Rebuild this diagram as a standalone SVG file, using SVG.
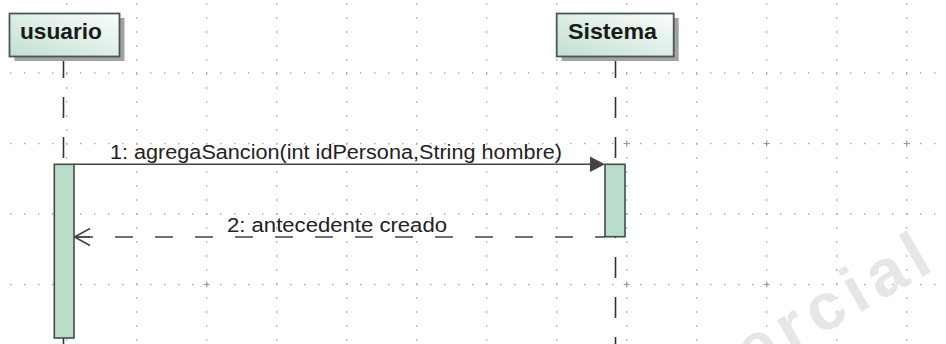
<svg xmlns="http://www.w3.org/2000/svg" width="946" height="344" viewBox="0 0 946 344">
<style>
.gv{stroke:#a8a8a8;stroke-width:1.4;stroke-dasharray:1.4 12.6;stroke-dashoffset:-3.3}
.gh{stroke:#a8a8a8;stroke-width:1.4;stroke-dasharray:1.4 12.6;stroke-dashoffset:-10}
.cr{stroke:#999;stroke-width:1.2}
.box{fill:url(#boxg);stroke:#4a5752;stroke-width:1.8}
.shadow{fill:#a2a2a2}
.act{fill:#b9ddca;stroke:#3f4f48;stroke-width:1.6}
.life{stroke:#333;stroke-width:1.6;stroke-dasharray:21 19;fill:none}
.title{font-family:"Liberation Sans",Arial,sans-serif;font-weight:bold;font-size:22px;fill:#1a1a1a}
.lbl{font-family:"Liberation Sans",Arial,sans-serif;font-size:20px;fill:#222}
.msg{stroke:#444;stroke-width:1.6;fill:none}
</style>
<defs>
<linearGradient id="boxg" x1="0" y1="1" x2="1" y2="0">
<stop offset="0" stop-color="#c0e0d0"/>
<stop offset="1" stop-color="#fbfdfc"/>
</linearGradient>
</defs>
<rect width="946" height="344" fill="#ffffff"/>
<g id="grid">
<line class="gv" x1="66.7" y1="0" x2="66.7" y2="344"/>
<line class="gv" x1="136.7" y1="0" x2="136.7" y2="344"/>
<line class="gv" x1="206.7" y1="0" x2="206.7" y2="344"/>
<line class="gv" x1="276.7" y1="0" x2="276.7" y2="344"/>
<line class="gv" x1="346.7" y1="0" x2="346.7" y2="344"/>
<line class="gv" x1="416.7" y1="0" x2="416.7" y2="344"/>
<line class="gv" x1="486.7" y1="0" x2="486.7" y2="344"/>
<line class="gv" x1="556.7" y1="0" x2="556.7" y2="344"/>
<line class="gv" x1="626.7" y1="0" x2="626.7" y2="344"/>
<line class="gv" x1="696.7" y1="0" x2="696.7" y2="344"/>
<line class="gv" x1="766.7" y1="0" x2="766.7" y2="344"/>
<line class="gv" x1="836.7" y1="0" x2="836.7" y2="344"/>
<line class="gv" x1="906.7" y1="0" x2="906.7" y2="344"/>
<line class="gh" x1="0" y1="73" x2="946" y2="73"/>
<line class="gh" x1="0" y1="143.5" x2="946" y2="143.5"/>
<line class="gh" x1="0" y1="214" x2="946" y2="214"/>
<line class="gh" x1="0" y1="284.5" x2="946" y2="284.5"/>
<path class="cr" d="M203.7 284.5h6M206.7 281.5v6M623.7 143.5h6M626.7 140.5v6M763.7 143.5h6M766.7 140.5v6M903.7 143.5h6M906.7 140.5v6M623.7 284.5h6M626.7 281.5v6M763.7 284.5h6M766.7 281.5v6"/>
</g>
<text x="752" y="375" transform="rotate(-30 752 375)" font-family="'Liberation Sans',Arial,sans-serif" font-weight="bold" font-size="66" fill="#e6e6e6" textLength="211" lengthAdjust="spacing">ercial</text>
<g id="connectors">
<line class="life" x1="63.5" y1="57" x2="63.5" y2="164"/>
<line class="life" x1="63.5" y1="338" x2="63.5" y2="344"/>
<line class="life" x1="615.5" y1="57" x2="615.5" y2="344"/>
<line class="msg" x1="74" y1="164.3" x2="592" y2="164.3"/>
<polygon points="590,156.5 605,164.3 590,172" fill="#444"/>
<line class="msg" x1="605" y1="237" x2="74" y2="237" stroke-dasharray="18 22" stroke-dashoffset="8"/>
<path class="msg" d="M90 228.5L74.5 237L90 245.5M74.5 237H90"/>
</g>
<g id="usuario">
<rect class="shadow" x="14.5" y="18" width="110" height="43"/>
<rect class="box" x="9.5" y="13.5" width="110" height="43"/>
<text class="title" x="20" y="39" textLength="82" lengthAdjust="spacingAndGlyphs">usuario</text>
<rect class="act" x="54.3" y="164.3" width="19.7" height="173.7"/>
</g>
<g id="sistema">
<rect class="shadow" x="561.7" y="18" width="117" height="43"/>
<rect class="box" x="556.7" y="13.5" width="117" height="43"/>
<text class="title" x="568" y="39" textLength="89" lengthAdjust="spacingAndGlyphs">Sistema</text>
<rect class="act" x="605" y="164.3" width="20" height="72.4"/>
</g>
<g id="labels">
<text class="lbl" x="110" y="159" textLength="452" lengthAdjust="spacingAndGlyphs">1: agregaSancion(int idPersona,String hombre)</text>
<text class="lbl" x="227" y="232" textLength="220" lengthAdjust="spacingAndGlyphs">2: antecedente creado</text>
</g>
</svg>
